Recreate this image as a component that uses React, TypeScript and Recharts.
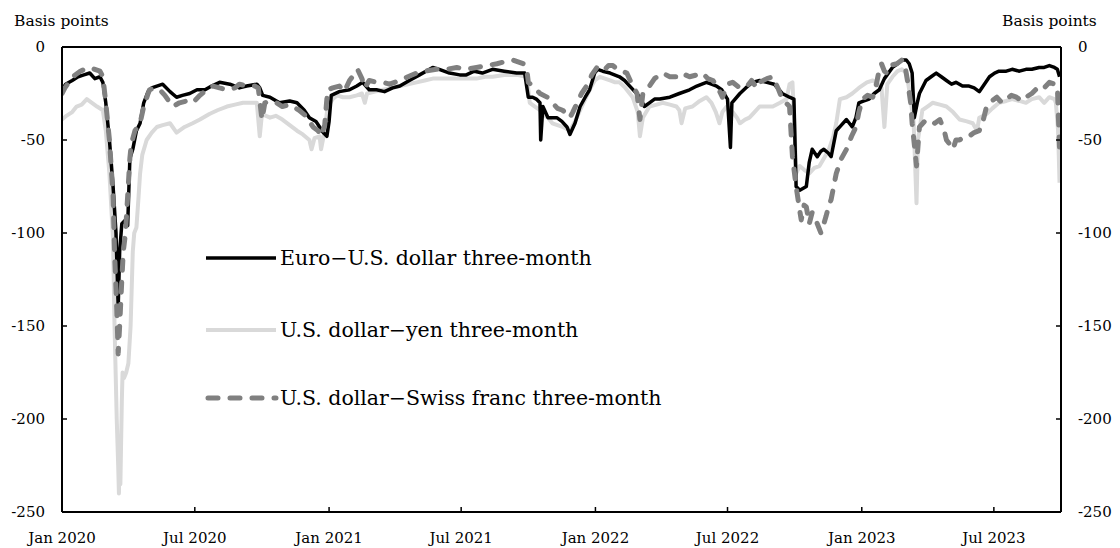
import React from 'react';
import { LineChart, Line, XAxis, YAxis, ReferenceLine, Legend } from 'recharts';

// Euro–U.S. dollar three-month basis (basis points)
const euroSeries: [string, number][] = [
  ['2020-01-01', -23], ['2020-01-06', -20], ['2020-01-15', -18], ['2020-01-23', -16], ['2020-01-31', -15],
  ['2020-02-08', -14], ['2020-02-15', -17], ['2020-02-22', -16], ['2020-02-26', -19], ['2020-03-01', -30],
  ['2020-03-06', -50], ['2020-03-11', -75], ['2020-03-15', -100], ['2020-03-18', -140], ['2020-03-20', -110],
  ['2020-03-23', -95], ['2020-03-28', -93], ['2020-03-31', -96], ['2020-04-03', -60], ['2020-04-07', -55],
  ['2020-04-12', -45], ['2020-04-17', -41], ['2020-04-22', -30], ['2020-04-28', -24], ['2020-05-03', -22],
  ['2020-05-10', -21], ['2020-05-18', -20], ['2020-05-28', -24], ['2020-06-06', -27], ['2020-06-14', -26],
  ['2020-06-24', -25], ['2020-07-04', -23], ['2020-07-15', -23], ['2020-07-24', -21], ['2020-08-04', -19],
  ['2020-08-18', -20], ['2020-08-31', -22], ['2020-09-10', -21], ['2020-09-24', -20], ['2020-09-28', -22],
  ['2020-10-02', -26], ['2020-10-12', -27], ['2020-10-25', -30], ['2020-11-08', -29], ['2020-11-18', -30],
  ['2020-11-28', -34], ['2020-12-05', -38], ['2020-12-14', -40], ['2020-12-19', -43], ['2020-12-24', -46],
  ['2020-12-29', -48], ['2021-01-01', -40], ['2021-01-04', -26], ['2021-01-15', -24], ['2021-01-29', -23],
  ['2021-02-08', -21], ['2021-02-16', -19], ['2021-02-25', -23], ['2021-03-07', -23], ['2021-03-18', -24],
  ['2021-03-29', -22], ['2021-04-08', -21], ['2021-04-21', -18], ['2021-05-05', -15], ['2021-05-23', -11],
  ['2021-06-01', -12], ['2021-06-15', -14], ['2021-06-29', -15], ['2021-07-08', -15], ['2021-07-19', -13],
  ['2021-07-30', -14], ['2021-08-13', -12], ['2021-08-29', -13], ['2021-09-15', -14], ['2021-09-26', -14],
  ['2021-10-01', -27], ['2021-10-07', -27], ['2021-10-12', -28], ['2021-10-17', -30], ['2021-10-18', -50],
  ['2021-10-21', -32], ['2021-10-28', -38], ['2021-11-09', -38], ['2021-11-16', -40], ['2021-11-23', -43],
  ['2021-11-27', -47], ['2021-12-04', -41], ['2021-12-11', -32], ['2021-12-18', -27], ['2021-12-24', -23],
  ['2021-12-31', -14], ['2022-01-04', -12], ['2022-01-11', -13], ['2022-01-21', -14], ['2022-02-03', -16],
  ['2022-02-10', -18], ['2022-02-17', -21], ['2022-02-24', -24], ['2022-03-03', -27], ['2022-03-09', -32],
  ['2022-03-16', -30], ['2022-03-23', -28], ['2022-03-30', -28], ['2022-04-13', -27], ['2022-04-26', -25],
  ['2022-05-10', -23], ['2022-05-20', -21], ['2022-06-02', -19], ['2022-06-09', -20], ['2022-06-16', -21],
  ['2022-06-23', -23], ['2022-07-01', -28], ['2022-07-05', -54], ['2022-07-07', -30], ['2022-07-18', -25],
  ['2022-07-26', -22], ['2022-08-04', -19], ['2022-08-14', -18], ['2022-08-24', -19], ['2022-09-03', -20],
  ['2022-09-14', -25], ['2022-09-24', -27], ['2022-09-30', -28], ['2022-10-03', -75], ['2022-10-08', -77],
  ['2022-10-17', -75], ['2022-10-21', -62], ['2022-10-25', -55], ['2022-11-01', -59], ['2022-11-06', -56],
  ['2022-11-10', -55], ['2022-11-16', -57], ['2022-11-20', -59], ['2022-11-27', -45], ['2022-12-04', -42],
  ['2022-12-11', -39], ['2022-12-19', -43], ['2022-12-24', -38], ['2022-12-28', -30], ['2023-01-04', -29],
  ['2023-01-11', -28], ['2023-01-18', -25], ['2023-01-25', -23], ['2023-02-01', -17], ['2023-02-12', -11],
  ['2023-02-19', -9], ['2023-02-25', -7], ['2023-03-03', -7], ['2023-03-07', -9], ['2023-03-11', -14],
  ['2023-03-14', -38], ['2023-03-18', -30], ['2023-03-21', -25], ['2023-03-30', -18], ['2023-04-06', -16],
  ['2023-04-13', -14], ['2023-04-20', -16], ['2023-04-27', -18], ['2023-05-04', -20], ['2023-05-10', -19],
  ['2023-05-19', -21], ['2023-05-28', -21], ['2023-06-04', -22], ['2023-06-11', -24], ['2023-06-18', -20],
  ['2023-06-25', -16], ['2023-07-02', -14], ['2023-07-08', -13], ['2023-07-18', -13], ['2023-07-26', -12],
  ['2023-08-05', -13], ['2023-08-14', -12], ['2023-08-22', -12], ['2023-09-01', -11], ['2023-09-08', -11],
  ['2023-09-15', -10], ['2023-09-22', -11], ['2023-09-26', -12], ['2023-09-29', -16],
];

// U.S. dollar–yen three-month basis (basis points)
const yenSeries: [string, number][] = [
  ['2020-01-01', -39], ['2020-01-07', -37], ['2020-01-15', -35], ['2020-01-21', -32], ['2020-01-28', -31],
  ['2020-02-04', -28], ['2020-02-11', -30], ['2020-02-18', -32], ['2020-02-26', -34], ['2020-03-01', -45],
  ['2020-03-06', -68], ['2020-03-11', -104], ['2020-03-13', -150], ['2020-03-16', -200], ['2020-03-18', -225],
  ['2020-03-19', -240], ['2020-03-20', -215], ['2020-03-21', -235], ['2020-03-23', -190], ['2020-03-24', -175],
  ['2020-03-26', -178], ['2020-03-29', -175], ['2020-04-01', -170], ['2020-04-04', -150], ['2020-04-07', -110],
  ['2020-04-09', -100], ['2020-04-12', -97], ['2020-04-15', -80], ['2020-04-17', -68], ['2020-04-20', -58],
  ['2020-04-26', -50], ['2020-05-03', -46], ['2020-05-10', -43], ['2020-05-18', -42], ['2020-05-28', -41],
  ['2020-06-06', -46], ['2020-06-17', -43], ['2020-06-28', -41], ['2020-07-08', -39], ['2020-07-21', -36],
  ['2020-08-01', -34], ['2020-08-14', -32], ['2020-08-25', -31], ['2020-09-05', -30], ['2020-09-17', -30],
  ['2020-09-24', -30], ['2020-09-28', -48], ['2020-10-01', -36], ['2020-10-12', -38], ['2020-10-20', -37],
  ['2020-10-29', -39], ['2020-11-08', -42], ['2020-11-18', -45], ['2020-11-26', -47], ['2020-12-05', -50],
  ['2020-12-08', -55], ['2020-12-12', -49], ['2020-12-19', -48], ['2020-12-21', -55], ['2020-12-26', -45],
  ['2020-12-30', -32], ['2021-01-06', -28], ['2021-01-12', -26], ['2021-01-20', -27], ['2021-01-29', -27],
  ['2021-02-08', -26], ['2021-02-15', -25], ['2021-02-19', -30], ['2021-02-22', -25], ['2021-03-05', -24],
  ['2021-03-16', -23], ['2021-03-28', -22], ['2021-04-08', -21], ['2021-04-19', -20], ['2021-05-01', -19],
  ['2021-05-12', -18], ['2021-05-23', -17], ['2021-06-09', -17], ['2021-06-25', -17], ['2021-07-08', -17],
  ['2021-07-22', -17], ['2021-08-03', -16], ['2021-08-13', -16], ['2021-08-29', -15], ['2021-09-15', -15],
  ['2021-09-29', -16], ['2021-10-03', -30], ['2021-10-10', -32], ['2021-10-17', -34], ['2021-10-24', -37],
  ['2021-10-28', -38], ['2021-11-03', -41], ['2021-11-10', -42], ['2021-11-17', -43], ['2021-11-23', -44],
  ['2021-11-27', -45], ['2021-12-04', -40], ['2021-12-11', -34], ['2021-12-18', -28], ['2021-12-24', -23],
  ['2021-12-31', -18], ['2022-01-07', -16], ['2022-01-14', -17], ['2022-01-21', -18], ['2022-01-28', -19],
  ['2022-02-03', -19], ['2022-02-11', -22], ['2022-02-21', -27], ['2022-02-28', -35], ['2022-03-03', -48],
  ['2022-03-07', -38], ['2022-03-16', -32], ['2022-03-26', -31], ['2022-04-03', -30], ['2022-04-13', -31],
  ['2022-04-22', -32], ['2022-04-26', -34], ['2022-04-29', -41], ['2022-05-04', -33], ['2022-05-14', -32],
  ['2022-05-24', -29], ['2022-06-02', -27], ['2022-06-09', -30], ['2022-06-15', -35], ['2022-06-20', -41],
  ['2022-06-24', -35], ['2022-06-30', -32], ['2022-07-08', -35], ['2022-07-14', -38], ['2022-07-18', -41],
  ['2022-07-25', -39], ['2022-07-31', -38], ['2022-08-07', -35], ['2022-08-14', -32], ['2022-08-24', -32],
  ['2022-09-01', -32], ['2022-09-11', -30], ['2022-09-20', -28], ['2022-09-24', -20], ['2022-09-28', -19],
  ['2022-10-01', -45], ['2022-10-03', -68], ['2022-10-08', -64], ['2022-10-14', -66], ['2022-10-21', -68],
  ['2022-10-28', -65], ['2022-11-04', -64], ['2022-11-10', -60], ['2022-11-17', -55], ['2022-11-23', -48],
  ['2022-11-27', -41], ['2022-12-02', -28], ['2022-12-11', -27], ['2022-12-19', -25], ['2022-12-28', -22],
  ['2023-01-08', -19], ['2023-01-16', -18], ['2023-01-23', -20], ['2023-01-28', -22], ['2023-02-01', -43],
  ['2023-02-05', -20], ['2023-02-12', -16], ['2023-02-19', -13], ['2023-02-25', -12], ['2023-03-03', -14],
  ['2023-03-07', -23], ['2023-03-13', -40], ['2023-03-17', -84], ['2023-03-19', -50], ['2023-03-25', -34],
  ['2023-04-01', -32], ['2023-04-08', -30], ['2023-04-18', -31], ['2023-04-27', -32], ['2023-05-06', -35],
  ['2023-05-15', -39], ['2023-05-25', -40], ['2023-06-02', -41], ['2023-06-08', -45], ['2023-06-11', -38],
  ['2023-06-21', -36], ['2023-06-29', -33], ['2023-07-08', -30], ['2023-07-18', -29], ['2023-07-26', -28],
  ['2023-08-05', -29], ['2023-08-14', -30], ['2023-08-22', -28], ['2023-09-01', -27], ['2023-09-08', -30],
  ['2023-09-15', -27], ['2023-09-22', -28], ['2023-09-24', -30], ['2023-09-27', -45], ['2023-09-29', -73],
];

// U.S. dollar–Swiss franc three-month basis (basis points)
const swissSeries: [string, number][] = [
  ['2020-01-01', -25], ['2020-01-05', -22], ['2020-01-12', -18], ['2020-01-19', -15], ['2020-01-26', -13],
  ['2020-02-01', -12], ['2020-02-08', -11], ['2020-02-15', -12], ['2020-02-22', -13], ['2020-02-26', -16],
  ['2020-03-01', -30], ['2020-03-06', -50], ['2020-03-11', -80], ['2020-03-13', -110], ['2020-03-16', -140],
  ['2020-03-18', -165], ['2020-03-20', -150], ['2020-03-23', -125], ['2020-03-25', -110], ['2020-03-28', -100],
  ['2020-03-31', -80], ['2020-04-03', -60], ['2020-04-05', -52], ['2020-04-10', -45], ['2020-04-17', -41],
  ['2020-04-22', -32], ['2020-04-28', -25], ['2020-04-30', -23], ['2020-05-07', -22], ['2020-05-14', -23],
  ['2020-05-21', -26], ['2020-05-28', -30], ['2020-06-01', -32], ['2020-06-10', -30], ['2020-06-20', -29],
  ['2020-06-28', -30], ['2020-07-08', -26], ['2020-07-17', -23], ['2020-07-26', -21], ['2020-08-04', -22],
  ['2020-08-14', -23], ['2020-08-25', -22], ['2020-08-31', -20], ['2020-09-10', -21], ['2020-09-21', -21],
  ['2020-09-26', -22], ['2020-10-01', -39], ['2020-10-05', -30], ['2020-10-12', -29], ['2020-10-21', -30],
  ['2020-10-29', -32], ['2020-11-08', -31], ['2020-11-21', -34], ['2020-11-30', -37], ['2020-12-10', -43],
  ['2020-12-17', -45], ['2020-12-21', -48], ['2020-12-26', -42], ['2020-12-30', -23], ['2021-01-06', -22],
  ['2021-01-15', -21], ['2021-01-22', -24], ['2021-01-29', -18], ['2021-02-02', -16], ['2021-02-09', -12],
  ['2021-02-15', -17], ['2021-02-19', -22], ['2021-02-25', -18], ['2021-03-07', -19], ['2021-03-16', -19],
  ['2021-03-25', -20], ['2021-04-08', -18], ['2021-04-19', -16], ['2021-05-01', -14], ['2021-05-12', -13],
  ['2021-05-28', -12], ['2021-06-11', -12], ['2021-06-25', -11], ['2021-07-08', -12], ['2021-07-22', -11],
  ['2021-08-05', -10], ['2021-08-19', -9], ['2021-08-29', -8], ['2021-09-10', -7], ['2021-09-17', -8],
  ['2021-09-24', -9], ['2021-09-29', -12], ['2021-10-01', -19], ['2021-10-07', -21], ['2021-10-12', -23],
  ['2021-10-17', -25], ['2021-10-27', -27], ['2021-11-03', -30], ['2021-11-10', -33], ['2021-11-17', -34],
  ['2021-11-23', -36], ['2021-11-27', -38], ['2021-12-01', -35], ['2021-12-07', -30], ['2021-12-13', -25],
  ['2021-12-20', -21], ['2021-12-27', -15], ['2022-01-03', -11], ['2022-01-07', -10], ['2022-01-14', -12],
  ['2022-01-19', -10], ['2022-01-25', -10], ['2022-01-31', -12], ['2022-02-06', -13], ['2022-02-13', -14],
  ['2022-02-20', -20], ['2022-02-27', -25], ['2022-03-03', -39], ['2022-03-07', -25], ['2022-03-12', -22],
  ['2022-03-16', -21], ['2022-03-23', -17], ['2022-03-30', -15], ['2022-04-03', -14], ['2022-04-13', -16],
  ['2022-04-22', -16], ['2022-04-29', -14], ['2022-05-10', -16], ['2022-05-20', -15], ['2022-05-28', -14],
  ['2022-06-04', -17], ['2022-06-11', -18], ['2022-06-18', -22], ['2022-06-24', -27], ['2022-07-01', -20],
  ['2022-07-08', -19], ['2022-07-18', -22], ['2022-07-28', -21], ['2022-08-03', -18], ['2022-08-10', -22],
  ['2022-08-14', -19], ['2022-08-24', -17], ['2022-09-01', -16], ['2022-09-08', -22], ['2022-09-14', -28],
  ['2022-09-24', -32], ['2022-09-28', -59], ['2022-10-03', -75], ['2022-10-08', -88], ['2022-10-10', -93],
  ['2022-10-14', -85], ['2022-10-17', -86], ['2022-10-21', -95], ['2022-10-25', -89], ['2022-10-31', -94],
  ['2022-11-04', -98], ['2022-11-06', -100], ['2022-11-10', -95], ['2022-11-13', -91], ['2022-11-17', -85],
  ['2022-11-20', -82], ['2022-11-27', -68], ['2022-12-04', -60], ['2022-12-11', -55], ['2022-12-18', -48],
  ['2022-12-24', -43], ['2022-12-28', -35], ['2023-01-02', -28], ['2023-01-09', -26], ['2023-01-16', -27],
  ['2023-01-21', -20], ['2023-01-25', -12], ['2023-01-28', -9], ['2023-02-01', -13], ['2023-02-04', -14],
  ['2023-02-08', -10], ['2023-02-18', -9], ['2023-02-25', -7], ['2023-03-02', -12], ['2023-03-05', -19],
  ['2023-03-09', -30], ['2023-03-11', -41], ['2023-03-17', -64], ['2023-03-21', -43], ['2023-03-28', -40],
  ['2023-04-04', -39], ['2023-04-11', -41], ['2023-04-18', -39], ['2023-04-24', -45], ['2023-04-27', -50],
  ['2023-05-01', -52], ['2023-05-06', -55], ['2023-05-10', -50], ['2023-05-15', -50], ['2023-05-22', -48],
  ['2023-05-28', -48], ['2023-06-04', -46], ['2023-06-11', -45], ['2023-06-16', -40], ['2023-06-21', -32],
  ['2023-06-28', -29], ['2023-07-05', -27], ['2023-07-12', -30], ['2023-07-18', -28], ['2023-07-25', -26],
  ['2023-08-01', -27], ['2023-08-08', -29], ['2023-08-14', -27], ['2023-08-22', -25], ['2023-09-01', -21],
  ['2023-09-08', -22], ['2023-09-15', -19], ['2023-09-22', -20], ['2023-09-26', -21], ['2023-09-29', -55],
];

const xTickDates = ['2020-01-01', '2020-07-01', '2021-01-01', '2021-07-01', '2022-01-01', '2022-07-01', '2023-01-01', '2023-07-01'];
const xTickLabels = ['Jan 2020', 'Jul 2020', 'Jan 2021', 'Jul 2021', 'Jan 2022', 'Jul 2022', 'Jan 2023', 'Jul 2023'];
const xDomainDates = ['2020-01-01', '2023-10-01'];
const yTicks = [-250, -200, -150, -100, -50, 0];
const yDomain = [-250, 0];

const seriesNames = ['Euro\u2212U.S. dollar three-month', 'U.S. dollar\u2212yen three-month', 'U.S. dollar\u2212Swiss franc three-month'];
const seriesColors = ['#000000', '#d9d9d9', '#808080'];

const FONT = 'DejaVu Serif';

const toT = (d: string) => Date.parse(d + 'T00:00:00Z');
const toRows = (rows: [string, number][]) => rows.map(([d, v]) => ({ t: toT(d), v }));

const euroData = toRows(euroSeries);
const yenData = toRows(yenSeries);
const swissData = toRows(swissSeries);
const xTicks = xTickDates.map(toT);
const xDomain = xDomainDates.map(toT);

const fmtX = (t: number) => {
  const i = xTicks.indexOf(t);
  return i >= 0 ? xTickLabels[i] : '';
};

const legendRowTops = [0, 72, 140];

const LegendBox = () => (
  <div style={{ position: 'relative', width: 480, height: 180, fontFamily: FONT }}>
    {seriesNames.map((name, i) => (
      <div key={name} style={{ position: 'absolute', left: 0, top: legendRowTops[i], height: 30, display: 'flex', alignItems: 'center' }}>
        <svg width={76} height={30} style={{ display: 'block' }}>
          {i === 2 ? (
            <line x1={4} y1={15} x2={72} y2={15} stroke={seriesColors[i]} strokeWidth={5} strokeDasharray="10 12" strokeLinecap="round" />
          ) : (
            <line x1={2} y1={15} x2={72} y2={15} stroke={seriesColors[i]} strokeWidth={i === 0 ? 3.5 : 4} />
          )}
        </svg>
        <span style={{ fontSize: 20.5, color: '#000', whiteSpace: 'nowrap', lineHeight: '30px' }}>{name}</span>
      </div>
    ))}
  </div>
);

export default function App() {
  const tickStyle = { fill: '#000', fontSize: 15, fontFamily: FONT };
  return (
    <div style={{ position: 'absolute', left: 0, top: 0, width: 1120, height: 548, background: '#fff', fontFamily: FONT }}>
      <LineChart width={1120} height={548} margin={{ top: 47, right: 0, bottom: 0, left: 0 }}>
        <XAxis
          type="number"
          dataKey="t"
          domain={xDomain}
          ticks={xTicks}
          tickFormatter={fmtX}
          interval={0}
          height={36}
          axisLine={{ stroke: '#000', strokeWidth: 2 }}
          tickLine={{ stroke: '#000', strokeWidth: 1.5 }}
          tickSize={-5}
          tickMargin={25}
          tick={tickStyle}
          allowDataOverflow
        />
        <YAxis
          yAxisId="left"
          orientation="left"
          domain={yDomain}
          ticks={yTicks}
          width={62}
          axisLine={{ stroke: '#000', strokeWidth: 2 }}
          tickLine={{ stroke: '#000', strokeWidth: 1.5 }}
          tickSize={-5}
          tickMargin={22}
          tick={tickStyle}
          interval={0}
          allowDataOverflow
        />
        <YAxis
          yAxisId="right"
          orientation="right"
          domain={yDomain}
          ticks={yTicks}
          width={59}
          axisLine={{ stroke: '#000', strokeWidth: 2 }}
          tickLine={{ stroke: '#000', strokeWidth: 1.5 }}
          tickSize={-5}
          tickMargin={22}
          tick={{ ...tickStyle, textAnchor: 'start' }}
          interval={0}
          allowDataOverflow
        />
        <ReferenceLine yAxisId="left" y={0} stroke="#000" strokeWidth={2} />
        <Line yAxisId="left" data={yenData} dataKey="v" type="linear" stroke={seriesColors[1]} strokeWidth={4} dot={false} activeDot={false} isAnimationActive={false} strokeLinejoin="round" />
        <Line yAxisId="left" data={euroData} dataKey="v" type="linear" stroke={seriesColors[0]} strokeWidth={3.5} dot={false} activeDot={false} isAnimationActive={false} strokeLinejoin="round" />
        <Line yAxisId="left" data={swissData} dataKey="v" type="linear" stroke={seriesColors[2]} strokeWidth={5} strokeDasharray="10 12" strokeLinecap="round" dot={false} activeDot={false} isAnimationActive={false} strokeLinejoin="round" />
        <Legend
          layout="vertical"
          align="center"
          verticalAlign="middle"
          content={() => <LegendBox />}
          wrapperStyle={{ left: 204, top: 243, width: 480, height: 180 }}
        />
      </LineChart>
      <div style={{ position: 'absolute', left: 14, top: 11, fontSize: 15.5, lineHeight: '20px', color: '#000', whiteSpace: 'nowrap' }}>Basis points</div>
      <div style={{ position: 'absolute', left: 1002, top: 11, fontSize: 15.5, lineHeight: '20px', color: '#000', whiteSpace: 'nowrap' }}>Basis points</div>
    </div>
  );
}
